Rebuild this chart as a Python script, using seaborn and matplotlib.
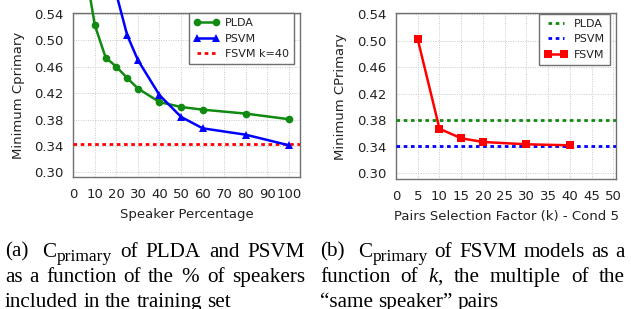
import matplotlib
matplotlib.use("Agg")
import matplotlib.pyplot as plt
import seaborn as sns
import pandas as pd
from matplotlib.lines import Line2D

# ---- data ----
pct_plda = [5, 10, 15, 20, 25, 30, 40, 50, 60, 80, 100]
cp_plda = [0.62, 0.523, 0.474, 0.460, 0.443, 0.427, 0.4065, 0.399, 0.395, 0.389, 0.3805]
pct_psvm = [20, 25, 30, 40, 50, 60, 80, 100]
cp_psvm = [0.57, 0.508, 0.470, 0.417, 0.384, 0.3667, 0.357, 0.341]
fsvm_k40 = 0.3424

k_vals = [5, 10, 15, 20, 30, 40]
cp_fsvm = [0.5023, 0.3673, 0.3529, 0.3473, 0.3438, 0.3423]
plda_best = 0.3805
psvm_best = 0.3412

yticks = [0.30, 0.34, 0.38, 0.42, 0.46, 0.50, 0.54]
xticks_a = list(range(0, 101, 10))
xticks_b = list(range(0, 51, 5))

GREEN = "#108a10"
BLUE = "#0000ff"
RED = "#ff0000"
TXT = "#222222"

sns.set_style("whitegrid")
plt.rcParams["font.family"] = ["DejaVu Sans"]
plt.rcParams["mathtext.fontset"] = "custom"
plt.rcParams["mathtext.rm"] = "Liberation Serif"
plt.rcParams["mathtext.it"] = "Liberation Serif:italic"

W, H = 631, 309
fig = plt.figure(figsize=(W / 100, H / 100), dpi=100)

axa = fig.add_axes([73.3 / W, 1 - 177.3 / H, (300 - 73.3) / W, (177.3 - 12.7) / H])
axb = fig.add_axes([396 / W, 1 - 179.3 / H, (616 - 396) / W, (179.3 - 13.3) / H])

dfa1 = pd.DataFrame({"x": pct_plda, "y": cp_plda})
dfa2 = pd.DataFrame({"x": pct_psvm, "y": cp_psvm})
dfb = pd.DataFrame({"x": k_vals, "y": cp_fsvm})

dot = (0, (1.3, 1.3))

# (a)
sns.lineplot(data=dfa1, x="x", y="y", ax=axa, color=GREEN, lw=1.8, marker="o",
             markersize=5.5, markeredgewidth=0, clip_on=False, zorder=4)
sns.lineplot(data=dfa2, x="x", y="y", ax=axa, color=BLUE, lw=1.8, marker="^",
             markersize=6, markeredgewidth=0, clip_on=False, zorder=4)
axa.axhline(fsvm_k40, color=RED, lw=2, ls=dot, zorder=3)

# (b)
sns.lineplot(data=dfb, x="x", y="y", ax=axb, color=RED, lw=1.8, marker="s",
             markersize=5.5, markeredgewidth=0, zorder=4)
axb.axhline(plda_best, color=GREEN, lw=2, ls=dot, zorder=3)
axb.axhline(psvm_best, color=BLUE, lw=2, ls=dot, zorder=3)

for ax, xt, xl, yl, ylim in [
    (axa, xticks_a, (0, 105.2), "Minimum Cprimary", (0.2924, 0.542)),
    (axb, xticks_b, (0, 50.6), "Minimum CPrimary", (0.291, 0.5415)),
]:
    ax.set_xlim(*xl)
    ax.set_ylim(*ylim)
    ax.set_xticks(xt)
    ax.set_yticks(yticks)
    ax.set_yticklabels([f"{v:.2f}" for v in yticks])
    ax.tick_params(axis="both", length=0, labelsize=9.5, labelcolor=TXT)
    ax.tick_params(axis="x", pad=7.5)
    ax.tick_params(axis="y", pad=7)
    ax.grid(True, color="#c8c8c8", lw=0.7, ls=(0, (1, 1.5)))
    for s in ax.spines.values():
        s.set_color("#707070")
        s.set_linewidth(1.0)
        s.set_visible(True)
    ax.set_ylabel(yl, fontsize=9.5, color=TXT)

axa.set_xlabel("Speaker Percentage", fontsize=9.5, color=TXT)
axb.set_xlabel("Pairs Selection Factor (k) - Cond 5", fontsize=9.5, color=TXT)
for ax, xy, yx in [(axa, (0.5, -0.229), -0.2426), (axb, (0.5, -0.225), -0.251)]:
    ax.xaxis.label.set_va("center")
    ax.xaxis.set_label_coords(*xy)
    ax.yaxis.label.set_va("center")
    ax.yaxis.set_label_coords(yx, 0.5)

# legends
leg_kw = dict(loc="upper right", borderaxespad=0, numpoints=2, fontsize=8,
              fancybox=False, framealpha=1, edgecolor="#707070", borderpad=0.45,
              labelspacing=0.5, handletextpad=0.55)
ha = [Line2D([], [], color=GREEN, lw=1.8, marker="o", markersize=5.5, markeredgewidth=0),
      Line2D([], [], color=BLUE, lw=1.8, marker="^", markersize=6, markeredgewidth=0),
      Line2D([], [], color=RED, lw=2, ls=dot)]
la = axa.legend(ha, ["PLDA", "PSVM", "FSVM k=40"], bbox_to_anchor=(0.974, 0.997),
                handlelength=2.25, **leg_kw)
la.get_frame().set_linewidth(1.0)
for t in la.get_texts():
    t.set_color(TXT)

hb = [Line2D([], [], color=GREEN, lw=2, ls=dot),
      Line2D([], [], color=BLUE, lw=2, ls=dot),
      Line2D([], [], color=RED, lw=1.8, marker="s", markersize=5.5, markeredgewidth=0)]
lb = axb.legend(hb, ["PLDA", "PSVM", "FSVM"], bbox_to_anchor=(0.973, 0.998),
                handlelength=2.1, **leg_kw)
lb.get_frame().set_linewidth(1.0)
for t in lb.get_texts():
    t.set_color(TXT)

# ---- captions ----
CFS = 15.2
SFS = 12.6
renderer = fig.canvas.get_renderer()


def make_word(word):
    """word: str or list of (text, fontsize, dy_px) segments"""
    segs = [(word, CFS, 0.0)] if isinstance(word, str) else word
    arts = []
    for txt, fs, dy in segs:
        t = fig.text(0, 0, txt, fontsize=fs, family="Liberation Serif",
                     va="baseline", ha="left", color="black")
        arts.append((t, t.get_window_extent(renderer).width, dy))
    return arts


def place_line(words, x0, x1, ybase, justify=True, first_gap=None):
    items = [make_word(w) for w in words]
    widths = [sum(a[1] for a in it) for it in items]
    if justify and len(words) > 1:
        total = x1 - x0 - sum(widths)
        if first_gap is not None:
            rest = (total - first_gap) / (len(words) - 2)
            gaps = [first_gap] + [rest] * (len(words) - 2)
        else:
            gaps = [total / (len(words) - 1)] * (len(words) - 1)
    else:
        gaps = [0.25 * CFS * 100 / 72] * (len(words) - 1)
    x = x0
    for i, it in enumerate(items):
        xx = x
        for t, w, dy in it:
            t.set_position((xx / W, 1 - (ybase + dy) / H))
            xx += w
        x += widths[i] + (gaps[i] if i < len(gaps) else 0)


CP = [("C", CFS, 0.0), ("primary", SFS, 4.0)]
place_line(["(a)", CP, "of", "PLDA", "and", "PSVM"], 5, 305, 256.7, first_gap=14)
place_line(["as", "a", "function", "of", "the", r"$\%$", "of", "speakers"], 5, 305, 282.0)
place_line(["included", "in", "the", "training", "set"], 5, 305, 307.0, justify=False)
place_line(["(b)", CP, "of", "FSVM", "models", "as", "a"], 320, 625, 256.7, first_gap=14)
place_line(["function", "of", r"$k$,", "the", "multiple", "of", "the"], 320, 625, 282.0)
place_line(["\u201csame", "speaker\u201d", "pairs"], 320, 625, 307.0, justify=False)

fig.savefig("out.png", dpi=100)
